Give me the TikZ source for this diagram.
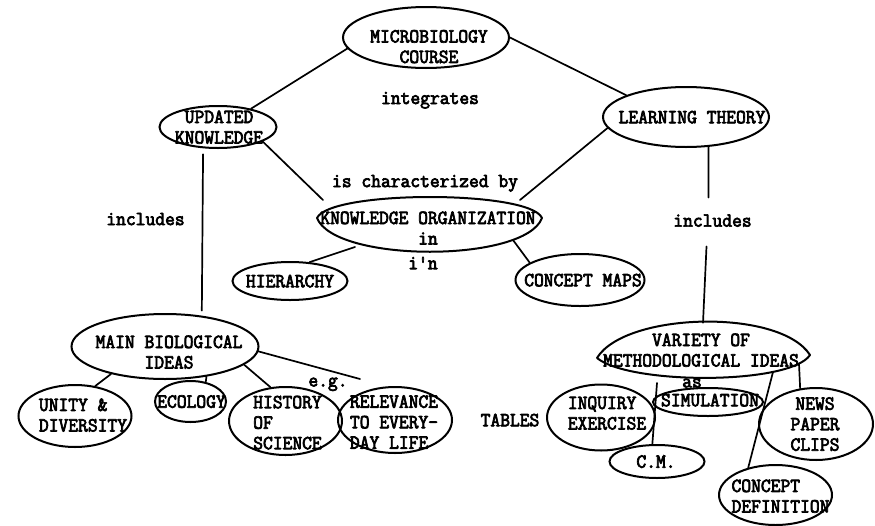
\documentclass[tikz,border=0pt]{standalone}
\usepackage{fontspec}
\usetikzlibrary{shapes.geometric}
\newfontfamily\typewriter{Latin Modern Mono}[FakeBold=3.5, FakeStretch=0.95]
\newcommand\mapfont{\fontsize{20}{20.5}\selectfont\typewriter}
\tikzset{
  concept/.style n args={2}{ellipse, draw, line width=2pt, inner sep=0pt,
    minimum width=#1pt, minimum height=#2pt},
  hull/.style n args={2}{ellipse, inner sep=0pt,
    minimum width=#1pt, minimum height=#2pt},
  outline/.style={line width=2pt, line join=round},
  lbl/.style={font=\mapfont, inner sep=0pt, align=center, text depth=0pt},
  lbll/.style={lbl, align=left},
  link/.style={line width=1.7pt, line cap=round},
}
\begin{document}
\begin{tikzpicture}[x=1pt, y=-1pt]
\useasboundingbox (0,0) rectangle (875,525);

% top level
\node[concept={166}{61}, label={[lbl,shift={(3,9)}]center:MICROBIOLOGY\\COURSE}] (mc) at (426,37.5) {};
\node[concept={117}{42}, label={[lbl,shift={(1,0)}]center:UPDATED\\KNOWLEDGE}] (uk) at (218,127) {};
\node[concept={166}{60}, label={[lbl,shift={(6,0)}]center:LEARNING THEORY}] (lt) at (686,117) {};
\node[lbl] (intg) at (430,98) {integrates};

% knowledge organization (lens outline drawn below)
\node[hull={226}{56}, label={[lbl,shift={(-2,4)}]center:KNOWLEDGE ORGANIZATION\\in}] (ko) at (430,224) {};
\draw[outline, shift={(ko.center)}] (-113,-6) .. controls (-100,-34) and (100,-34) .. (112,-6)
  .. controls (95,39) and (-95,39) .. cycle;
\node[lbl] (ic) at (425,181) {is characterized by};
\node[lbl] (in2) at (423,263) {i'n};
\node[concept={115}{38}, label={[lbl]center:HIERARCHY}] (hi) at (290,281) {};
\node[concept={129}{52}, label={[lbl,shift={(3,0)}]center:CONCEPT MAPS}] (cm) at (580,280) {};

\node[lbl] (incl) at (145.5,219) {includes};
\node[lbl] (incr) at (712.5,220.5) {includes};

% biology branch
\node[concept={187}{65}, label={[lbl,shift={(4,5.5)}]center:MAIN BIOLOGICAL\\IDEAS}] (mbi) at (165,346.5) {};
\node[concept={113}{62}, label={[lbll,shift={(8,-1)}]center:UNITY \&\\DIVERSITY}] (ud) at (75,416) {};
\node[concept={71}{41}, label={[lbl,shift={(1,0)}]center:ECOLOGY}] (eco) at (190.5,401.5) {};
\node[concept={113}{68}, label={[lbll,shift={(2,1.5)}]center:HISTORY\\OF\\SCIENCE}] (hos) at (285.5,421) {};
\node[concept={114}{66}, label={[lbll,shift={(-1,2)}]center:RELEVANCE\\TO EVERY-\\DAY LIFE}] (rel) at (395,420) {};
\node[lbl] (eg) at (328,382) {e.g.};
\node[lbl] (tab) at (510,420) {TABLES};

% methodology branch (lens outline drawn below)
\node[hull={214}{54}, label={[lbl,shift={(-2,0)}]center:VARIETY OF\\METHODOLOGICAL IDEAS}] (var) at (703,350) {};
\draw[outline, shift={(var.center)}] (-106,8) .. controls (-78,-38) and (77,-42) .. (107,5)
  .. controls (87,35) and (-73,35) .. cycle;
\node[lbl] (as) at (692,383) {as};
\node[concept={108}{66}, label={[lbll,shift={(6,-4.5)}]center:INQUIRY\\EXERCISE}] (inq) at (601,417.5) {};
\node[concept={110}{28}, label={[lbl,shift={(2,-2)}]center:SIMULATION}] (sim) at (708,402) {};
\node[concept={114}{72}, label={[lbl,shift={(-1,0)}]center:NEWS\\PAPER\\CLIPS}] (news) at (816,424) {};
\node[concept={95}{33}, label={[lbl,shift={(-1,0)}]center:C.M.}] (cmn) at (657,461.5) {};
\node[concept={113}{60}, label={[lbll,shift={(5,1)}]center:CONCEPT\\DEFINITION}] (cd) at (775.5,495) {};

% connectors
\draw[link] (mc.188) -- (uk.29);
\draw[link] (mc.east) -- (lt.160);
\draw[link] (uk.-18) -- ([shift={(-107,-24)}]ko.center);
\draw[link] (lt.188) -- ([shift={(90,-24)}]ko.center);
\draw[link] ([shift={(-75,23)}]ko.center) -- (hi.44);
\draw[link] ([shift={(83,16)}]ko.center) -- (cm.161);
\draw[link, shorten <=6pt, shorten >=5pt] (uk.-125) -- (mbi.40);
\draw[link] (lt.-53) -- ([shift={(-4,-23)}]incr.center);
\draw[link] ([shift={(-6,26)}]incr.center) -- (var.north);
\draw[link] (mbi.207) -- (ud.56);
\draw[link] (mbi.-36) -- (eco.52);
\draw[link] (mbi.-13) -- (hos.114);
\draw[link] (mbi.-3) -- ([shift={(-35,-41)}]rel.center);
\draw[link] ([shift={(-46,33)}]var.center) -- (cmn.105);
\draw[link] ([shift={(70,22)}]var.center) -- (cd.135);
\draw[link] ([shift={(96,14)}]var.center) -- (news.114);
\end{tikzpicture}
\end{document}
